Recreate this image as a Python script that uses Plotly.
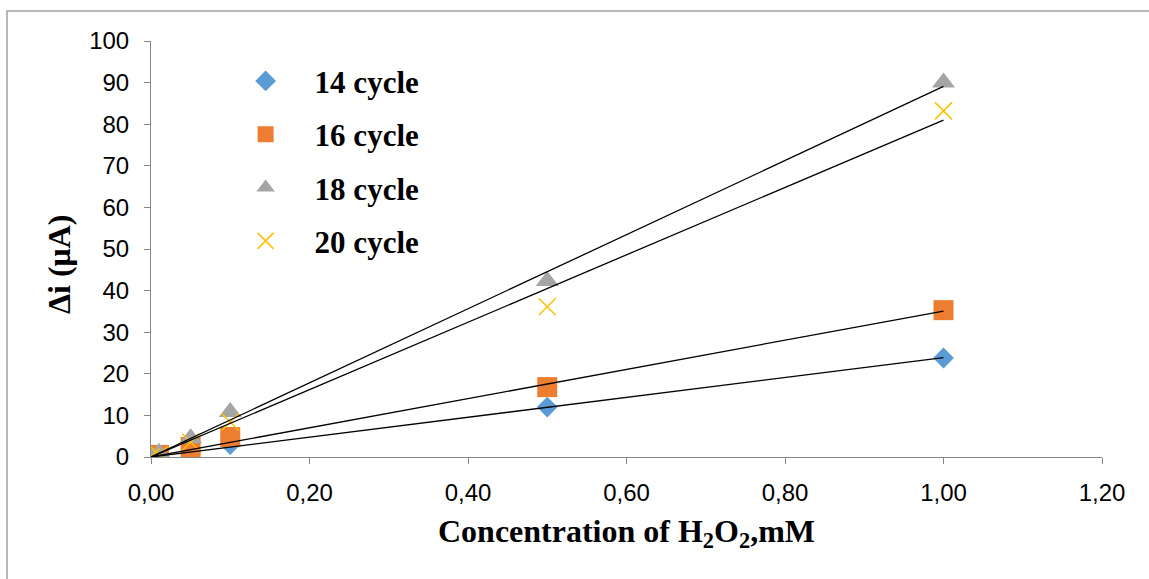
import numpy as np
import plotly.graph_objects as go

conc = [0.0, 0.01, 0.05, 0.10, 0.50, 1.00]
s14 = [0.0, 0.3, 1.0, 3.0, 12.0, 23.8]
s16 = [0.0, 0.5, 2.4, 4.8, 16.8, 35.3]
s18 = [0.0, 1.0, 4.5, 10.8, 42.3, 90.0]
s20 = [0.0, 0.5, 3.6, 8.4, 36.1, 83.2]
names = ["14 cycle", "16 cycle", "18 cycle", "20 cycle"]
xticks = [0.0, 0.2, 0.4, 0.6, 0.8, 1.0, 1.2]

series = [s14, s16, s18, s20]
styles = [
    dict(symbol="diamond", size=16, color="#5B9BD5"),
    dict(symbol="square", size=20, color="#ED7D31"),
    dict(symbol="triangle-up", size=20, color="#A5A5A5"),
    dict(symbol="x-thin", size=17, color="#FFC000", line=dict(color="#FFC000", width=1.5)),
]

fig = go.Figure()
for name, ys, st in zip(names, series, styles):
    fig.add_trace(go.Scatter(x=conc, y=ys, mode="markers", name=name,
                             legendgroup=name, marker=st))

# linear trendlines through origin (least squares)
x = np.array(conc)
for ys in series:
    y = np.array(ys)
    k = float((x * y).sum() / (x * x).sum())
    xl = [0.0, max(conc)]
    fig.add_trace(go.Scatter(x=xl, y=[k * v for v in xl], mode="lines",
                             line=dict(color="black", width=1.3),
                             showlegend=False, hoverinfo="skip"))

fig.update_layout(
    width=1149, height=579,
    margin=dict(l=151, r=47, t=41, b=122),
    paper_bgcolor="white", plot_bgcolor="white",
    separators=",.",
    showlegend=True,
    legend=dict(x=0.069, y=0.968, xanchor="left", yanchor="top",
                font=dict(family="Liberation Serif", size=31, color="black", weight="bold"),
                bgcolor="rgba(0,0,0,0)", tracegroupgap=10, itemwidth=88),
    xaxis=dict(range=[0, 1.2], tickvals=xticks, tickformat=".2f",
               showgrid=False, zeroline=False, showline=True, linecolor="#868686",
               linewidth=1, ticks="outside", ticklen=6, tickcolor="#868686",
               ticklabelstandoff=8,
               tickfont=dict(family="Liberation Sans", size=24, color="black"),
               title=dict(text="Concentration of H<sub>2</sub>O<sub>2</sub>,mM",
                          font=dict(family="Liberation Serif", size=32, color="black", weight="bold"),
                          standoff=14)),
    yaxis=dict(range=[0, 100], dtick=10, showgrid=False, zeroline=False,
               showline=True, linecolor="#868686", linewidth=1,
               ticks="outside", ticklen=6, tickcolor="#868686",
               ticklabelstandoff=10,
               tickfont=dict(family="Liberation Sans", size=24, color="black")),
    annotations=[dict(text="Δi (μA)", xref="paper", yref="paper",
                      x=-0.0967, y=0.464, xanchor="center", yanchor="middle",
                      textangle=-90, showarrow=False,
                      font=dict(family="Liberation Serif", size=32, color="black", weight="bold"))],
    shapes=[dict(type="rect", xref="paper", yref="paper",
                 x0=-0.1514, y0=-1.0, x1=2.0, y1=1.0721,
                 line=dict(color="#A0A0A0", width=1.5), fillcolor="rgba(0,0,0,0)", layer="below")],
)

fig.write_html("out.html", config={"displayModeBar": False},
               post_script="document.body.style.margin='0px';")
